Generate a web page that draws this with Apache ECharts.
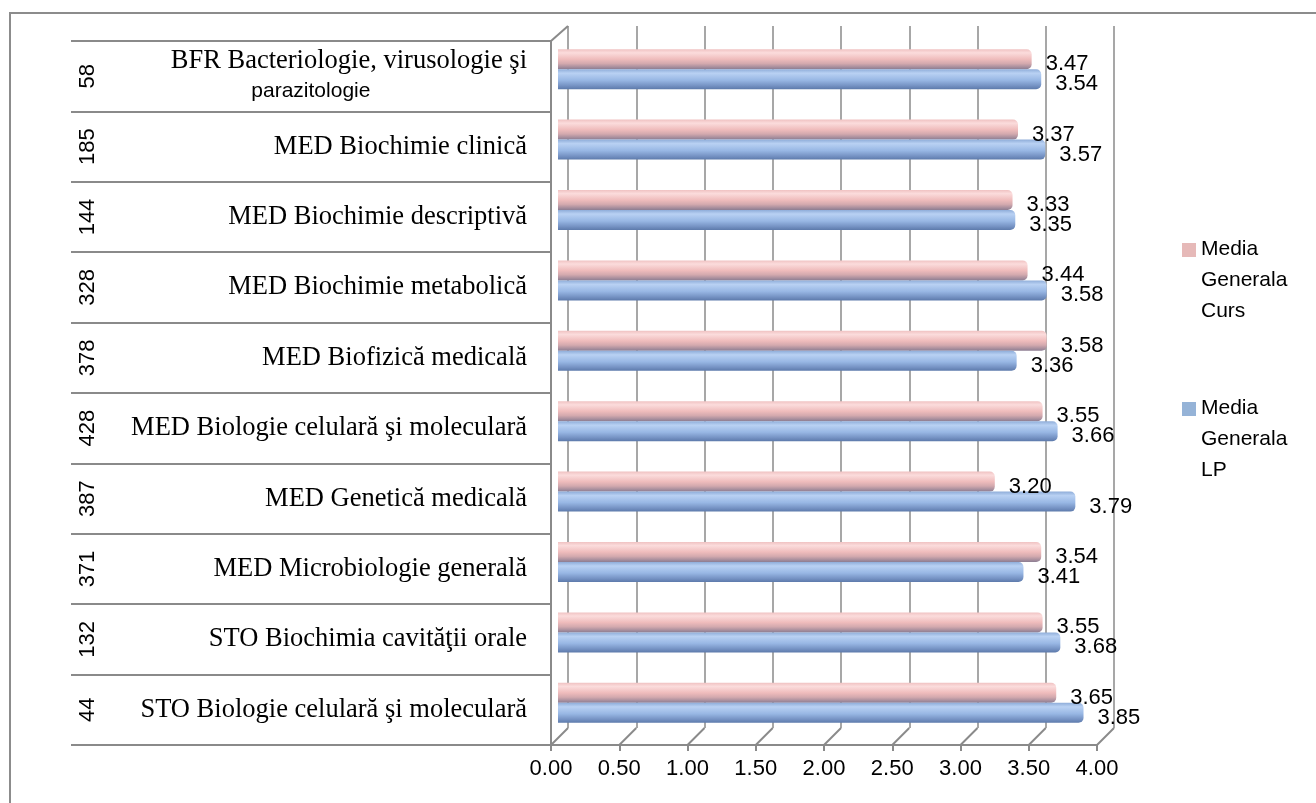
<!DOCTYPE html>
<html>
<head>
<meta charset="utf-8">
<script src="https://cdn.jsdelivr.net/npm/echarts@6/dist/echarts.min.js"></script>
<style>
html,body{margin:0;padding:0;background:#fff;}
#chart{width:1316px;height:803px;}
</style>
</head>
<body>
<div id="chart"></div>
<script>
// ---- data (top to bottom) ----
const categories = [
  'BFR Bacteriologie, virusologie şi\nparazitologie',
  'MED Biochimie clinică',
  'MED Biochimie descriptivă',
  'MED Biochimie metabolică',
  'MED Biofizică medicală',
  'MED Biologie celulară şi moleculară',
  'MED Genetică medicală',
  'MED Microbiologie generală',
  'STO Biochimia cavităţii orale',
  'STO Biologie celulară şi moleculară'
];
const counts = ['58', '185', '144', '328', '378', '428', '387', '371', '132', '44'];
const mediaCurs = [3.47, 3.37, 3.33, 3.44, 3.58, 3.55, 3.20, 3.54, 3.55, 3.65];
const mediaLP   = [3.54, 3.57, 3.35, 3.58, 3.36, 3.66, 3.79, 3.41, 3.68, 3.85];
const xTicks = [0, 0.5, 1, 1.5, 2, 2.5, 3, 3.5, 4];
const seriesNames = ['Media Generala Curs', 'Media Generala LP'];

const GRID_COLOR = '#8a8a8a';
const DEPTH_X = 17, DEPTH_Y = -17;
const SANS = 'Liberation Sans, Arial, sans-serif';
const SERIF = 'Liberation Serif, Times New Roman, serif';

const pinkGrad = new echarts.graphic.LinearGradient(0, 0, 0, 1, [
  {offset: 0, color: '#f0c2c2'},
  {offset: 0.18, color: '#fbdcdc'},
  {offset: 0.5, color: '#efbcbc'},
  {offset: 0.72, color: '#d3a9ae'},
  {offset: 1, color: '#8c7d92'}
]);
const blueGrad = new echarts.graphic.LinearGradient(0, 0, 0, 1, [
  {offset: 0, color: '#8fadd9'},
  {offset: 0.2, color: '#b9d1f3'},
  {offset: 0.55, color: '#98b7e4'},
  {offset: 0.82, color: '#7693c4'},
  {offset: 1, color: '#5d7aab'}
]);

// legend icon: square aligned with first text line (block 14 x 93)
const LEGEND_ICON = 'path://M0,0L0.01,0L0.01,0.01Z M0,9L14,9L14,23L0,23Z M0,92.99L0.01,92.99L0.01,93Z';

const chart = echarts.init(document.getElementById('chart'));

const labelStyle = {
  show: true,
  position: 'right',
  distance: 0,
  offset: [14, 5],
  fontFamily: SANS,
  fontSize: 22,
  color: '#000',
  formatter: p => p.value.toFixed(2)
};

function legendFor(name, color, top) {
  return {
    data: [{name: name, itemStyle: {color: color}}],
    left: 1182, top: top, orient: 'vertical', padding: 0,
    icon: LEGEND_ICON,
    itemWidth: 14, itemHeight: 93, selectedMode: false,
    formatter: n => n.split(' ').join('\n'),
    textStyle: {fontFamily: SANS, fontSize: 21, lineHeight: 31, color: '#000'}
  };
}

chart.setOption({
  animation: false,
  graphic: [{
    type: 'rect',
    shape: {x: 10, y: 13, width: 1400, height: 900},
    style: {fill: 'none', stroke: '#8c8c8c', lineWidth: 2},
    silent: true, z: -10
  }],
  grid: [
    {left: 568, top: 26, width: 546, height: 702, outerBoundsMode: 'none', containLabel: false},   // back wall
    {left: 551, top: 41, width: 546, height: 704, outerBoundsMode: 'none', containLabel: false},   // front axes
    {left: 558, top: 34, width: 546, height: 704, outerBoundsMode: 'none', containLabel: false}    // bars (mid depth)
  ],
  xAxis: [
    {gridIndex: 0, type: 'value', min: 0, max: 4, interval: 0.5,
     axisLine: {show: false}, axisTick: {show: false}, axisLabel: {show: false},
     splitLine: {show: true, lineStyle: {color: GRID_COLOR, width: 1.5}}},
    {gridIndex: 1, type: 'value', min: 0, max: 4, interval: 0.5,
     axisLine: {show: true, lineStyle: {color: GRID_COLOR, width: 2}},
     axisTick: {show: true, length: 6, lineStyle: {color: GRID_COLOR, width: 2}},
     axisLabel: {fontFamily: SANS, fontSize: 22, color: '#000', margin: 13,
                 showMinLabel: true, showMaxLabel: true, hideOverlap: false,
                 formatter: v => v.toFixed(2)},
     splitLine: {show: false}},
    {gridIndex: 2, type: 'value', min: 0, max: 4, show: false}
  ],
  yAxis: [
    {gridIndex: 0, type: 'category', data: categories, inverse: true, show: false},
    {gridIndex: 1, type: 'category', data: categories, inverse: true, position: 'left',
     axisLine: {show: true, lineStyle: {color: GRID_COLOR, width: 2}},
     axisTick: {show: true, length: 480, lineStyle: {color: GRID_COLOR, width: 2}},
     axisLabel: {
       margin: 24, color: '#000', interval: 0,
       fontFamily: SERIF, fontSize: 26.5,
       lineHeight: 31,
       formatter: v => {
         const parts = v.split('\n');
         if (parts.length > 1) return '{a|' + parts[0] + '}\n{b|' + parts[1] + '}';
         return '{a|' + v + '}';
       },
       rich: {
         a: {fontFamily: SERIF, fontSize: 26.5, lineHeight: 31, color: '#000'},
         b: {fontFamily: SANS, fontSize: 21, lineHeight: 31, color: '#000', align: 'center', padding: [0, 76, 0, 0]}
       }
     }},
    {gridIndex: 1, type: 'category', data: counts, inverse: true, position: 'left', offset: 0,
     axisLine: {show: false}, axisTick: {show: false},
     axisLabel: {rotate: 90, margin: 452, interval: 0, fontFamily: SANS, fontSize: 22, color: '#000'}},
    {gridIndex: 2, type: 'category', data: categories, inverse: true, show: false}
  ],
  legend: [
    legendFor(seriesNames[0], '#e6b9b8', 234),
    legendFor(seriesNames[1], '#95b3d7', 393)
  ],
  series: [
    {name: seriesNames[0], type: 'bar', xAxisIndex: 2, yAxisIndex: 3,
     data: mediaCurs, barWidth: 20, barGap: '0%',
     itemStyle: {color: pinkGrad, borderRadius: [0, 5, 5, 0]},
     label: labelStyle},
    {name: seriesNames[1], type: 'bar', xAxisIndex: 2, yAxisIndex: 3,
     data: mediaLP, barWidth: 20, barGap: '0%',
     itemStyle: {color: blueGrad, borderRadius: [0, 5, 5, 0]},
     label: labelStyle},
    {type: 'custom', xAxisIndex: 1, yAxisIndex: 1, silent: true,
     data: xTicks.map(v => [v, 0]),
     encode: {x: 0, y: 1},
     renderItem: (params, api) => {
       const cs = params.coordSys;
       const x = api.coord([api.value(0), 0])[0];
       const bottom = cs.y + cs.height;
       const children = [{
         type: 'line',
         shape: {x1: x, y1: bottom, x2: x + DEPTH_X, y2: bottom + DEPTH_Y},
         style: {stroke: GRID_COLOR, lineWidth: 2}
       }];
       if (params.dataIndex === 0) {
         children.push({
           type: 'line',
           shape: {x1: x, y1: cs.y, x2: x + DEPTH_X, y2: cs.y - 15},
           style: {stroke: GRID_COLOR, lineWidth: 2}
         });
       }
       return {type: 'group', children};
     }}
  ]
});
</script>
</body>
</html>
